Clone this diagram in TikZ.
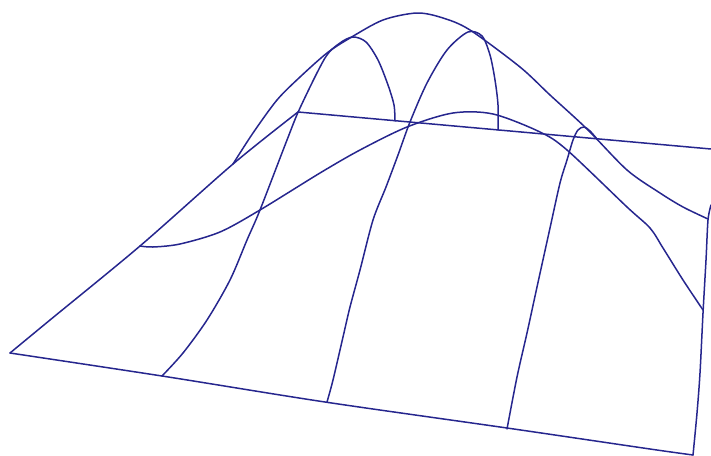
\documentclass[tikz,border=0pt]{standalone}
\definecolor{meshblue}{RGB}{38,38,142}
\begin{document}
\begin{tikzpicture}[x=1pt,y=-1pt,wire/.style={line width=1.5pt,meshblue,line join=round,line cap=round}]
            \useasboundingbox (0,0) rectangle (711,455);
            \draw [wire,smooth] plot coordinates {(10,353) (162,376) (325,402) (507,428) (650,449) (693,455)};
            \draw [wire,smooth] plot coordinates {(10,353) (50,320) (140,246) (233,164) (298,112)};
            \draw [wire] (298,112) -- (711,149);
            \draw [wire,smooth] plot coordinates {(693,455) (697,413) (700,373) (703,313) (706,260) (708,220) (711,205)};
            \draw [wire,smooth] plot coordinates {(140,246) (153,247) (180,244) (220,232) (260,210) (320,173) (360,150) (407,127) (453,113) (493,114) (540,132) (567,150) (627,207) (650,228) (663,248) (683,280) (703,310)};
            \draw [wire,smooth] plot coordinates {(233,164) (253,133) (277,100) (300,77) (327,53) (350,38) (383,20) (417,13) (443,18) (470,30) (520,67) (550,95) (587,129) (627,170) (660,193) (683,207) (708,219)};
            \draw [wire,smooth] plot coordinates {(162,376) (183,353) (207,320) (230,280) (247,240) (260,210) (287,140) (300,108) (325,58) (340,43) (353,37) (366,42) (378,60) (388,85) (394,105) (395,121)};
            \draw [wire,smooth] plot coordinates {(327,402) (333,380) (343,337) (350,307) (360,270) (373,220) (386,187) (398,155) (410,122) (427,83) (447,50) (468,32) (482,36) (490,55) (495,80) (498,105) (498,130)};
            \draw [wire,smooth] plot coordinates {(507,429) (517,377) (527,333) (537,287) (550,228) (560,183) (567,160) (573,140) (578,130) (584,127) (590,131) (597,139)};
          \end{tikzpicture}
\end{document}
